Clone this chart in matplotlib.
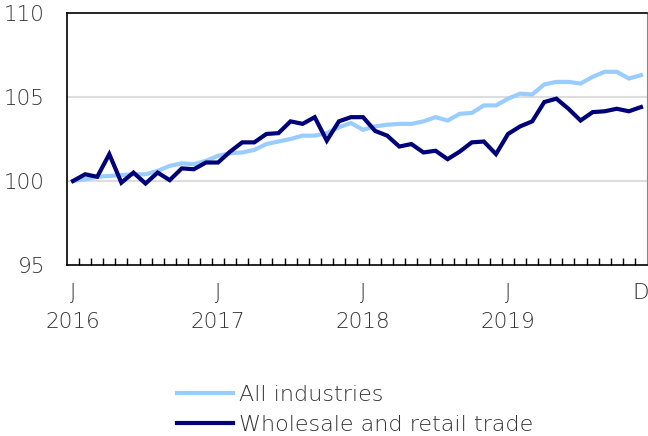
import matplotlib
matplotlib.use("Agg")
import matplotlib.pyplot as plt
import numpy as np

# monthly index, January 2016 = 100
months = np.arange(48)
all_industries = [100.0, 100.1, 100.25, 100.3, 100.35, 100.4, 100.4, 100.6, 100.9, 101.05, 101.0, 101.2,
                  101.5, 101.65, 101.7, 101.85, 102.2, 102.35, 102.5, 102.7, 102.7, 102.85, 103.2, 103.45,
                  103.05, 103.25, 103.35, 103.4, 103.4, 103.55, 103.8, 103.6, 104.0, 104.05, 104.5, 104.5,
                  104.9, 105.2, 105.15, 105.75, 105.9, 105.9, 105.8, 106.2, 106.5, 106.5, 106.1, 106.3]
wholesale_retail = [100.0, 100.4, 100.25, 101.6, 99.9, 100.5, 99.85, 100.5, 100.05, 100.75, 100.7, 101.1,
                    101.1, 101.75, 102.3, 102.3, 102.8, 102.85, 103.55, 103.4, 103.8, 102.4, 103.55, 103.8,
                    103.8, 102.98, 102.7, 102.05, 102.2, 101.7, 101.8, 101.3, 101.75, 102.3, 102.35, 101.6,
                    102.8, 103.25, 103.55, 104.7, 104.9, 104.3, 103.6, 104.1, 104.15, 104.3, 104.15, 104.4]
tick_pos = [0, 12, 24, 36, 47]
tick_labels = ["J\n2016", "J\n2017", "J\n2018", "J\n2019", "D"]
y_ticks = [95, 100, 105, 110]

text_color = "#333333"
plt.rcParams['font.family'] = 'DejaVu Sans'
plt.rcParams['font.weight'] = 'light'

fig = plt.figure(figsize=(6.48, 4.36), dpi=100)
ax = fig.add_axes([67/648, 1 - 265/436, 580/648, 252/436])

ax.plot(months, all_industries, color="#99CCFF", lw=3, label="All industries", solid_joinstyle='miter')
ax.plot(months, wholesale_retail, color="#000078", lw=3, label="Wholesale and retail trade", solid_joinstyle='miter')

ax.set_xlim(-0.5, 47.5)
ax.set_ylim(95, 110)
ax.set_yticks(y_ticks)
ax.set_yticklabels([str(v) for v in y_ticks])
for v in [100, 105]:
    ax.axhline(v, color="#dddddd", lw=1.5, zorder=0)

ax.set_xticks(tick_pos)
ax.set_xticklabels(tick_labels)
ax.set_xticks(np.arange(0.5, 47, 1), minor=True)
ax.tick_params(axis='x', which='major', length=0, pad=13, labelsize=15.5, colors=text_color)
ax.tick_params(axis='x', which='minor', direction='in', length=5, width=1, color='black')
ax.tick_params(axis='y', length=0, pad=16, labelsize=15.5, colors=text_color)
for lbl in ax.get_xticklabels():
    lbl.set_linespacing(1.55)

for s in ['left', 'bottom', 'top']:
    ax.spines[s].set_color('black')
    ax.spines[s].set_linewidth(1.2)
ax.spines['right'].set_color('#888888')

fig.legend(loc='upper left', bbox_to_anchor=(177/648, 1 - 385/436), frameon=False,
           fontsize=16, handlelength=2.5, handletextpad=0.3, labelspacing=0.45,
           borderpad=0, borderaxespad=0, labelcolor=text_color)

fig.savefig("out.png", dpi=100)
